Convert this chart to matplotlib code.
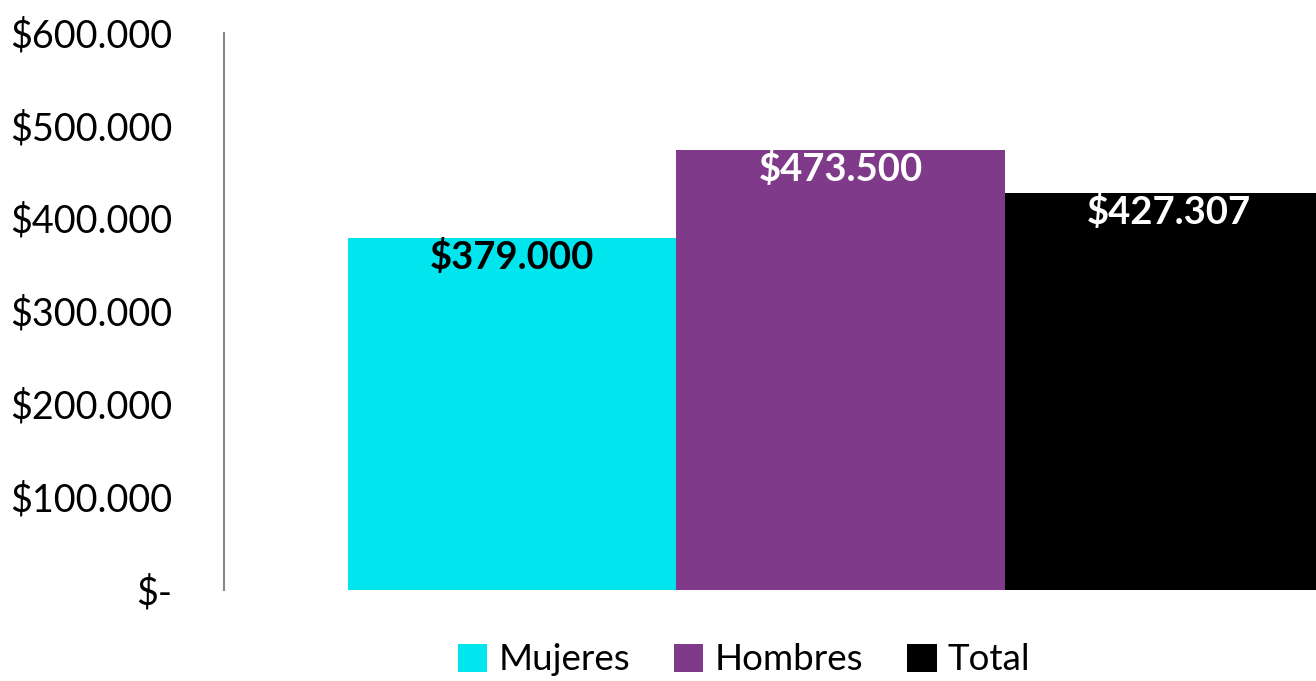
import numpy as np
import matplotlib.pyplot as plt
from matplotlib.ticker import FuncFormatter

# data
categories = ["Mujeres", "Hombres", "Total"]
values     = [379000, 473500, 427307]
colors     = ["#00E5EE", "#7F3B8A", "#000000"]
label_cols = ["black", "white", "white"]
yticks     = [0, 100000, 200000, 300000, 400000, 500000, 600000]

plt.rcParams["font.family"] = ["Lato", "DejaVu Sans"]

def money(v, pos=None):
    if v == 0:
        return "$-"
    return "$" + f"{int(round(v)):,}".replace(",", ".")

fig = plt.figure(figsize=(13.16, 6.81), dpi=100)
ax = fig.add_axes([224/1316, 1-589.5/681, 1-224/1316, (589.5-32.5)/681])

x = np.arange(len(categories))
bars = ax.bar(x, values, width=1.0, color=colors, label=categories)
for b, v, c in zip(bars, values, label_cols):
    ax.annotate(money(v), (b.get_x()+b.get_width()/2, v), xytext=(0, -1),
                textcoords="offset points", ha="center", va="top",
                fontsize=27.5, fontweight="bold", color=c)

ax.set_xlim(-0.877, 2.447)
ax.set_ylim(0, 600000)
ax.set_yticks(yticks)
ax.yaxis.set_major_formatter(FuncFormatter(money))
ax.tick_params(axis="y", length=0, pad=37, labelsize=27.2)
ax.tick_params(axis="x", length=0, labelbottom=False)
for s in ["top", "right", "bottom"]:
    ax.spines[s].set_visible(False)
ax.spines["left"].set_color("#888888")
ax.spines["left"].set_linewidth(1.5)
ax.spines["left"].set_bounds(0, 600000)

fig.legend(handles=bars, labels=categories, loc="center",
           bbox_to_anchor=(744/1316, 1-660/681), ncol=3, frameon=False,
           fontsize=26.5, handlelength=0.8, handleheight=0.8,
           handletextpad=0.3, columnspacing=1.2)

fig.savefig("out.png", dpi=100)
